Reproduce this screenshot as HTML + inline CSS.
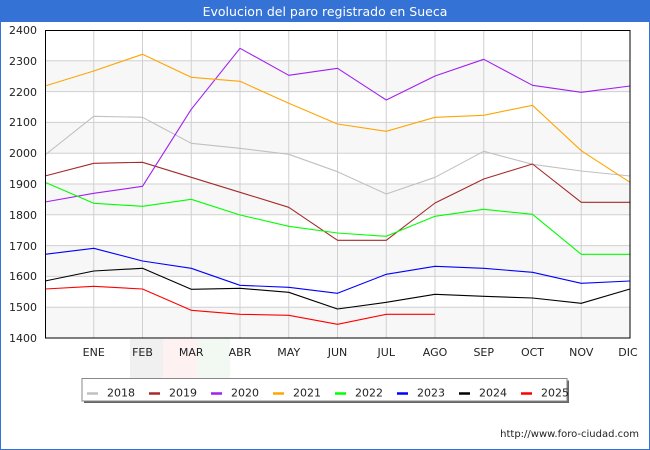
<!DOCTYPE html>
<html><head><meta charset="utf-8"><style>
html,body{margin:0;padding:0;background:#fff;}
svg{display:block;font-family:"DejaVu Sans","Liberation Sans",sans-serif;}
</style></head><body>
<svg width="650" height="450" viewBox="0 0 650 450" xmlns="http://www.w3.org/2000/svg">
<rect x="0" y="0" width="650" height="450" fill="#fff"/>
<rect x="0" y="0" width="650" height="22" fill="#3472d6"/>
<text x="325" y="16" text-anchor="middle" fill="#fff" font-size="12.5">Evolucion del paro registrado en Sueca</text>
<rect x="0.5" y="0.5" width="649" height="449" fill="none" stroke="#3472d6" stroke-width="1"/>
<!-- watermark flag -->
<rect x="130" y="339" width="33" height="39" fill="#f0f0f0"/>
<rect x="163" y="339" width="34" height="39" fill="#fdf1f1"/>
<rect x="197" y="339" width="33" height="39" fill="#f2f9f2"/>
<!-- bands -->
<g fill="#f7f7f7">
<rect x="45" y="60.8" width="585" height="30.8"/>
<rect x="45" y="122.4" width="585" height="30.8"/>
<rect x="45" y="184" width="585" height="30.8"/>
<rect x="45" y="245.6" width="585" height="30.8"/>
<rect x="45" y="307.2" width="585" height="30.8"/>
</g>
<g stroke="#d0d0d0" stroke-width="1" fill="none">
<path d="M45 60.8H630M45 91.6H630M45 122.4H630M45 153.2H630M45 184H630M45 214.8H630M45 245.6H630M45 276.4H630M45 307.2H630"/>
<path d="M93.75 30V338M142.5 30V338M191.25 30V338M240 30V338M288.75 30V338M337.5 30V338M386.25 30V338M435 30V338M483.75 30V338M532.5 30V338M581.25 30V338"/>
</g>
<g fill="none" stroke-width="1.1" stroke-linejoin="round">
<polyline stroke="#c0c0c0" points="45,155 93.75,116.3 142.5,117.3 191.25,143.3 240,148.3 288.75,154.3 337.5,171.7 386.25,194 435,177.3 483.75,151.3 532.5,164.3 581.25,171 630,176"/>
<polyline stroke="#a52a2a" points="45,176 93.75,163.3 142.5,162.3 191.25,177.3 240,192.3 288.75,207.3 337.5,240.3 386.25,240.3 435,203 483.75,179 532.5,164 581.25,202.3 630,202.3"/>
<polyline stroke="#a020f0" points="45,202 93.75,193.3 142.5,186.3 191.25,109.3 240,48.3 288.75,75.3 337.5,68.3 386.25,100 435,76 483.75,59.3 532.5,85.3 581.25,92.3 630,86"/>
<polyline stroke="#ffa500" points="45,86 93.75,71 142.5,54.3 191.25,77.3 240,81.3 288.75,103.3 337.5,124 386.25,131.3 435,117.3 483.75,115.3 532.5,105.3 581.25,150.7 630,182.3"/>
<polyline stroke="#00ff00" points="45,182.3 93.75,203.3 142.5,206.3 191.25,199.3 240,215 288.75,226.3 337.5,233 386.25,236.3 435,216.3 483.75,209.3 532.5,214.3 581.25,254.3 630,254.3"/>
<polyline stroke="#0000ff" points="45,254.3 93.75,248.3 142.5,261 191.25,268.3 240,285.3 288.75,287.3 337.5,293.3 386.25,274.3 435,266.3 483.75,268.3 532.5,272.3 581.25,283.3 630,281"/>
<polyline stroke="#000000" points="45,281 93.75,271 142.5,268.3 191.25,289.3 240,288.3 288.75,292.3 337.5,309 386.25,302.3 435,294.3 483.75,296.3 532.5,298 581.25,303.3 630,289"/>
<polyline stroke="#ff0000" points="45,289 93.75,286.3 142.5,289 191.25,310.3 240,314.3 288.75,315.3 337.5,324.3 386.25,314.3 435,314.3"/>
</g>
<rect x="45.5" y="30.5" width="584.5" height="307.5" fill="none" stroke="#000" stroke-width="1"/>
<g font-size="11" fill="#222" text-anchor="end">
<text x="37" y="34">2400</text>
<text x="37" y="65">2300</text>
<text x="37" y="96">2200</text>
<text x="37" y="126">2100</text>
<text x="37" y="157">2000</text>
<text x="37" y="188">1900</text>
<text x="37" y="219">1800</text>
<text x="37" y="250">1700</text>
<text x="37" y="280">1600</text>
<text x="37" y="311">1500</text>
<text x="37" y="342">1400</text>
</g>
<g font-size="11" fill="#222" text-anchor="middle">
<text x="93.75" y="356">ENE</text>
<text x="142.5" y="356">FEB</text>
<text x="191.25" y="356">MAR</text>
<text x="240" y="356">ABR</text>
<text x="288.75" y="356">MAY</text>
<text x="337.5" y="356">JUN</text>
<text x="386.25" y="356">JUL</text>
<text x="435" y="356">AGO</text>
<text x="483.75" y="356">SEP</text>
<text x="532.5" y="356">OCT</text>
<text x="581.25" y="356">NOV</text>
<text x="628" y="356">DIC</text>
</g>
<!-- legend -->
<rect x="84" y="380.5" width="485" height="22.5" fill="#666"/>
<rect x="82" y="378.5" width="485" height="22.5" fill="#fff" stroke="#888" stroke-width="1"/>
<g stroke-width="2.5">
<line x1="87" y1="393.5" x2="98" y2="393.5" stroke="#c0c0c0"/>
<line x1="149" y1="393.5" x2="160" y2="393.5" stroke="#a52a2a"/>
<line x1="211" y1="393.5" x2="222" y2="393.5" stroke="#a020f0"/>
<line x1="273" y1="393.5" x2="284" y2="393.5" stroke="#ffa500"/>
<line x1="335" y1="393.5" x2="346" y2="393.5" stroke="#00ff00"/>
<line x1="397" y1="393.5" x2="408" y2="393.5" stroke="#0000ff"/>
<line x1="459" y1="393.5" x2="470" y2="393.5" stroke="#000000"/>
<line x1="521" y1="393.5" x2="532" y2="393.5" stroke="#ff0000"/>
</g>
<g font-size="11" fill="#222">
<text x="107" y="396.5">2018</text>
<text x="169" y="396.5">2019</text>
<text x="231" y="396.5">2020</text>
<text x="293" y="396.5">2021</text>
<text x="355" y="396.5">2022</text>
<text x="417" y="396.5">2023</text>
<text x="479" y="396.5">2024</text>
<text x="541" y="396.5">2025</text>
</g>
<text x="639" y="437" text-anchor="end" font-size="10" fill="#222">http://www.foro-ciudad.com</text>
</svg>
</body></html>
